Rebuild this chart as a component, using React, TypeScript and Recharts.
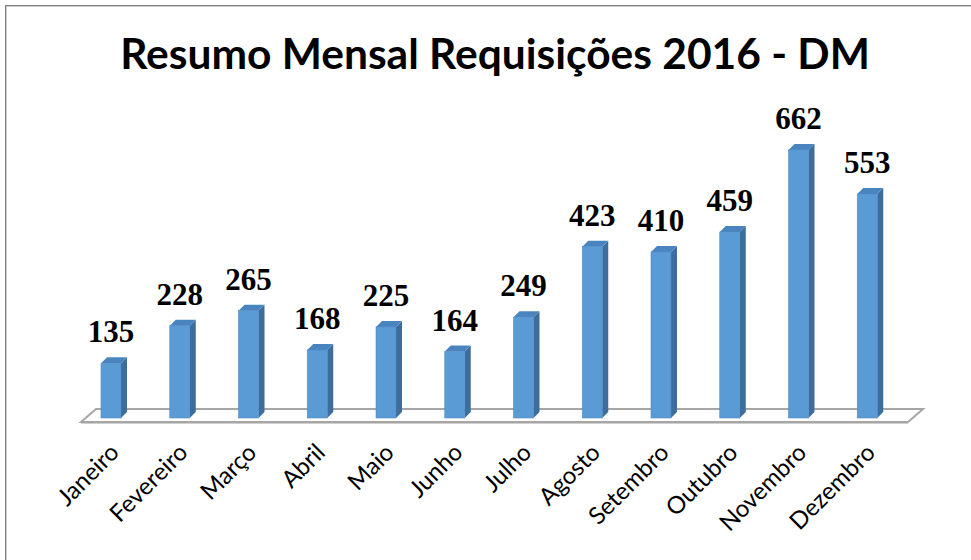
import React from 'react';
import { BarChart, Bar, XAxis, YAxis, LabelList, Customized } from 'recharts';

const months = [
  'Janeiro',
  'Fevereiro',
  'Março',
  'Abril',
  'Maio',
  'Junho',
  'Julho',
  'Agosto',
  'Setembro',
  'Outubro',
  'Novembro',
  'Dezembro',
];
const requisicoes = [135, 228, 265, 168, 225, 164, 249, 423, 410, 459, 662, 553];

const data = months.map((mes, i) => ({ mes, valor: requisicoes[i] }));

const W = 971;
const H = 560;
const M = { top: 134.5, right: 69, bottom: 0, left: 77 };
const AXIS_H = 142;
const PL = M.left;
const PR = W - M.right;
const PB = H - M.bottom - AXIS_H;

// 3d depth of the columns
const DX = 6;
const DY = 6;

const Column = (props: any) => {
  const { x, y, width, height } = props;
  if (!height) return null;
  return (
    <g>
      <polygon
        points={`${x + width},${y} ${x + width + DX},${y - DY} ${x + width + DX},${y + height - DY} ${x + width},${y + height}`}
        fill="#3d6d9b"
      />
      <polygon
        points={`${x},${y} ${x + DX},${y - DY} ${x + width + DX},${y - DY} ${x + width},${y}`}
        fill="#4a84bf"
      />
      <rect x={x} y={y} width={width} height={height} fill="#5b9bd5" stroke="#4f8bc6" strokeWidth={0.6} />
    </g>
  );
};

const ValueLabel = (props: any) => {
  const { x, y, width, value } = props;
  return (
    <text
      x={x + width / 2}
      y={y - 21}
      textAnchor="middle"
      fontFamily="'Liberation Serif', 'Times New Roman', serif"
      fontWeight="bold"
      fontSize={31}
      fill="#000"
    >
      {value}
    </text>
  );
};

const MonthTick = (props: any) => {
  const { x, payload } = props;
  const tx = x + 9;
  const ty = PB + 36;
  return (
    <text
      x={tx}
      y={ty}
      transform={`rotate(-45 ${tx} ${ty})`}
      textAnchor="end"
      fontFamily="Lato, 'Open Sans', sans-serif"
      fontSize={24}
      fill="#000"
    >
      {payload.value}
    </text>
  );
};

const Floor = () => (
  <g>
    <polygon
      points={`${PL + 4},${PB + 4} ${PL + 19},${PB - 9} ${PR + 21},${PB - 9} ${PR + 6},${PB + 4}`}
      fill="#ffffff"
      stroke="#a6a6a6"
      strokeWidth={2}
    />
    <line x1={PL + 4} y1={PB + 5.5} x2={PR + 6} y2={PB + 5.5} stroke="#cfcfcf" strokeWidth={1} />
  </g>
);

const Frame = () => (
  <g>
    <line x1={5} y1={5.5} x2={W} y2={5.5} stroke="#7f7f7f" strokeWidth={1} />
    <line x1={5} y1={6.5} x2={W} y2={6.5} stroke="#cccccc" strokeWidth={1} />
    <line x1={5.5} y1={5} x2={5.5} y2={H} stroke="#7f7f7f" strokeWidth={1} />
    <line x1={6.5} y1={6} x2={6.5} y2={H} stroke="#cccccc" strokeWidth={1} />
    <text
      x={495}
      y={69}
      textAnchor="middle"
      fontFamily="Lato, 'Open Sans', sans-serif"
      fontWeight="bold"
      fontSize={42.5}
      fill="#000"
    >
      Resumo Mensal Requisições 2016 - DM
    </text>
  </g>
);

export default function App() {
  return (
    <div style={{ position: 'absolute', left: 0, top: 0, width: W, height: H, background: '#fff' }}>
      <BarChart width={W} height={H} data={data} margin={M} barSize={20}>
        <Customized component={Frame} />
        <Customized component={Floor} />
        <XAxis
          dataKey="mes"
          axisLine={false}
          tickLine={false}
          height={AXIS_H}
          interval={0}
          tick={<MonthTick />}
        />
        <YAxis hide domain={[0, 700]} />
        <Bar dataKey="valor" shape={<Column />} isAnimationActive={false}>
          <LabelList dataKey="valor" content={<ValueLabel />} />
        </Bar>
      </BarChart>
    </div>
  );
}
